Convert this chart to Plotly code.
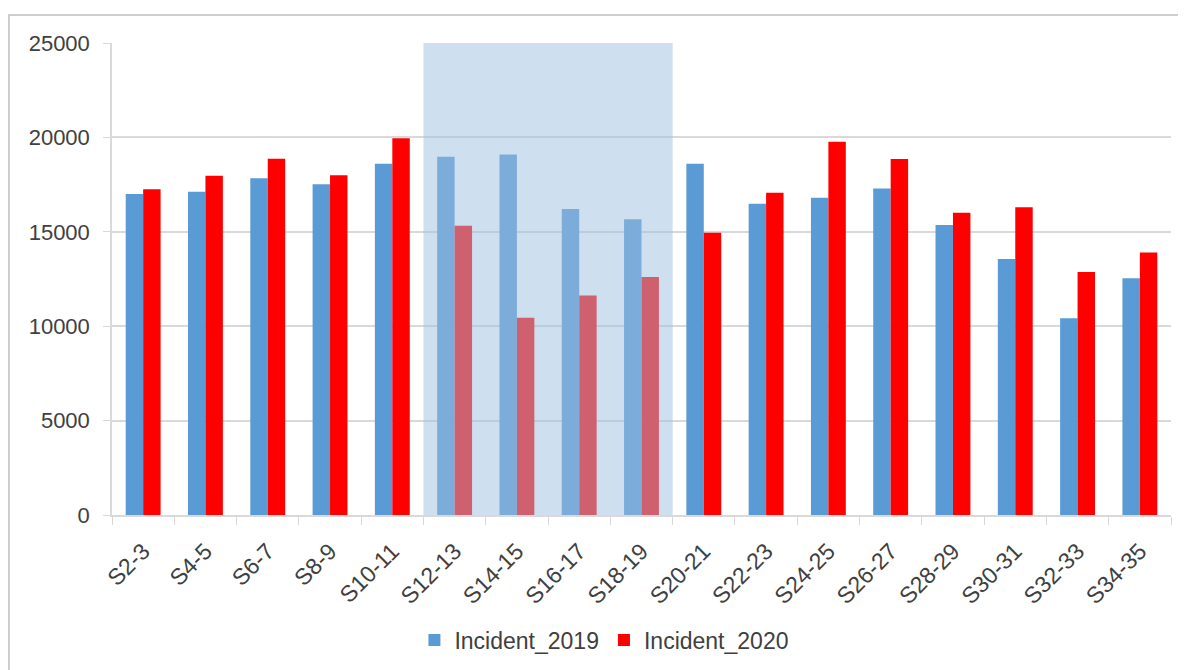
import plotly.graph_objects as go

periods = ["S2-3", "S4-5", "S6-7", "S8-9", "S10-11", "S12-13", "S14-15", "S16-17", "S18-19",
           "S20-21", "S22-23", "S24-25", "S26-27", "S28-29", "S30-31", "S32-33", "S34-35"]
incident_2019 = [17000, 17120, 17830, 17520, 18610, 18980, 19100, 16210, 15660,
                 18610, 16490, 16800, 17300, 15360, 13560, 10420, 12540]
incident_2020 = [17250, 17970, 18870, 18000, 19950, 15320, 10450, 11630, 12600,
                 14950, 17070, 19770, 18860, 16010, 16300, 12870, 13910]
shaded_span = ("S12-13", "S18-19")

_BLUE = "#5b9bd5"
_RED = "#ff0000"
_GRID = "#d9d9d9"
_TEXT = "#404040"
_FONT = "Liberation Sans, Arial, sans-serif"

fig = go.Figure()
fig.add_trace(go.Bar(x=periods, y=incident_2019, name="Incident_2019", marker_color=_BLUE,
                     marker_line_width=0))
fig.add_trace(go.Bar(x=periods, y=incident_2020, name="Incident_2020", marker_color=_RED,
                     marker_line_width=0))

# translucent band over the highlighted weeks
i0 = periods.index(shaded_span[0]) - 0.5
i1 = periods.index(shaded_span[1]) + 0.5
fig.add_shape(type="rect", xref="x", yref="y", x0=i0, x1=i1, y0=0, y1=25000,
              fillcolor="rgba(158,192,223,0.5)", line_width=0, layer="above")

# chart-area border (Excel style)
fig.add_shape(type="rect", xref="paper", yref="paper", x0=-0.0973, x1=1.05, y0=-0.4, y1=1.0593,
              line=dict(color="#bfbfbf", width=1.5), fillcolor="rgba(0,0,0,0)", layer="below")

fig.update_layout(
    width=1186,
    height=670,
    barmode="group",
    bargap=0.44,
    bargroupgap=0,
    paper_bgcolor="white",
    plot_bgcolor="white",
    margin=dict(l=104, r=23, t=35, b=163, autoexpand=False),
    font=dict(family=_FONT, color=_TEXT, size=22),
    legend=dict(orientation="h", x=0.465, xanchor="center", y=-0.265, yanchor="middle",
                font=dict(size=23, color=_TEXT)),
    showlegend=True,
)
fig.update_xaxes(
    type="category",
    tickangle=-45,
    tickson="boundaries",
    ticks="outside",
    ticklen=8,
    tickcolor=_GRID,
    showline=True,
    linecolor=_GRID,
    linewidth=1.5,
    tickfont=dict(size=23, color=_TEXT),
    ticklabelstandoff=12,
    showgrid=False,
)
fig.update_yaxes(
    range=[0, 25000],
    dtick=5000,
    tickformat="d",
    showgrid=True,
    gridcolor=_GRID,
    gridwidth=1.5,
    showline=True,
    linecolor=_GRID,
    linewidth=1.5,
    ticks="outside",
    ticklen=7,
    tickcolor=_GRID,
    tickfont=dict(size=22, color=_TEXT),
    ticklabelstandoff=9,
    zeroline=False,
)

fig.write_html("out.html")
